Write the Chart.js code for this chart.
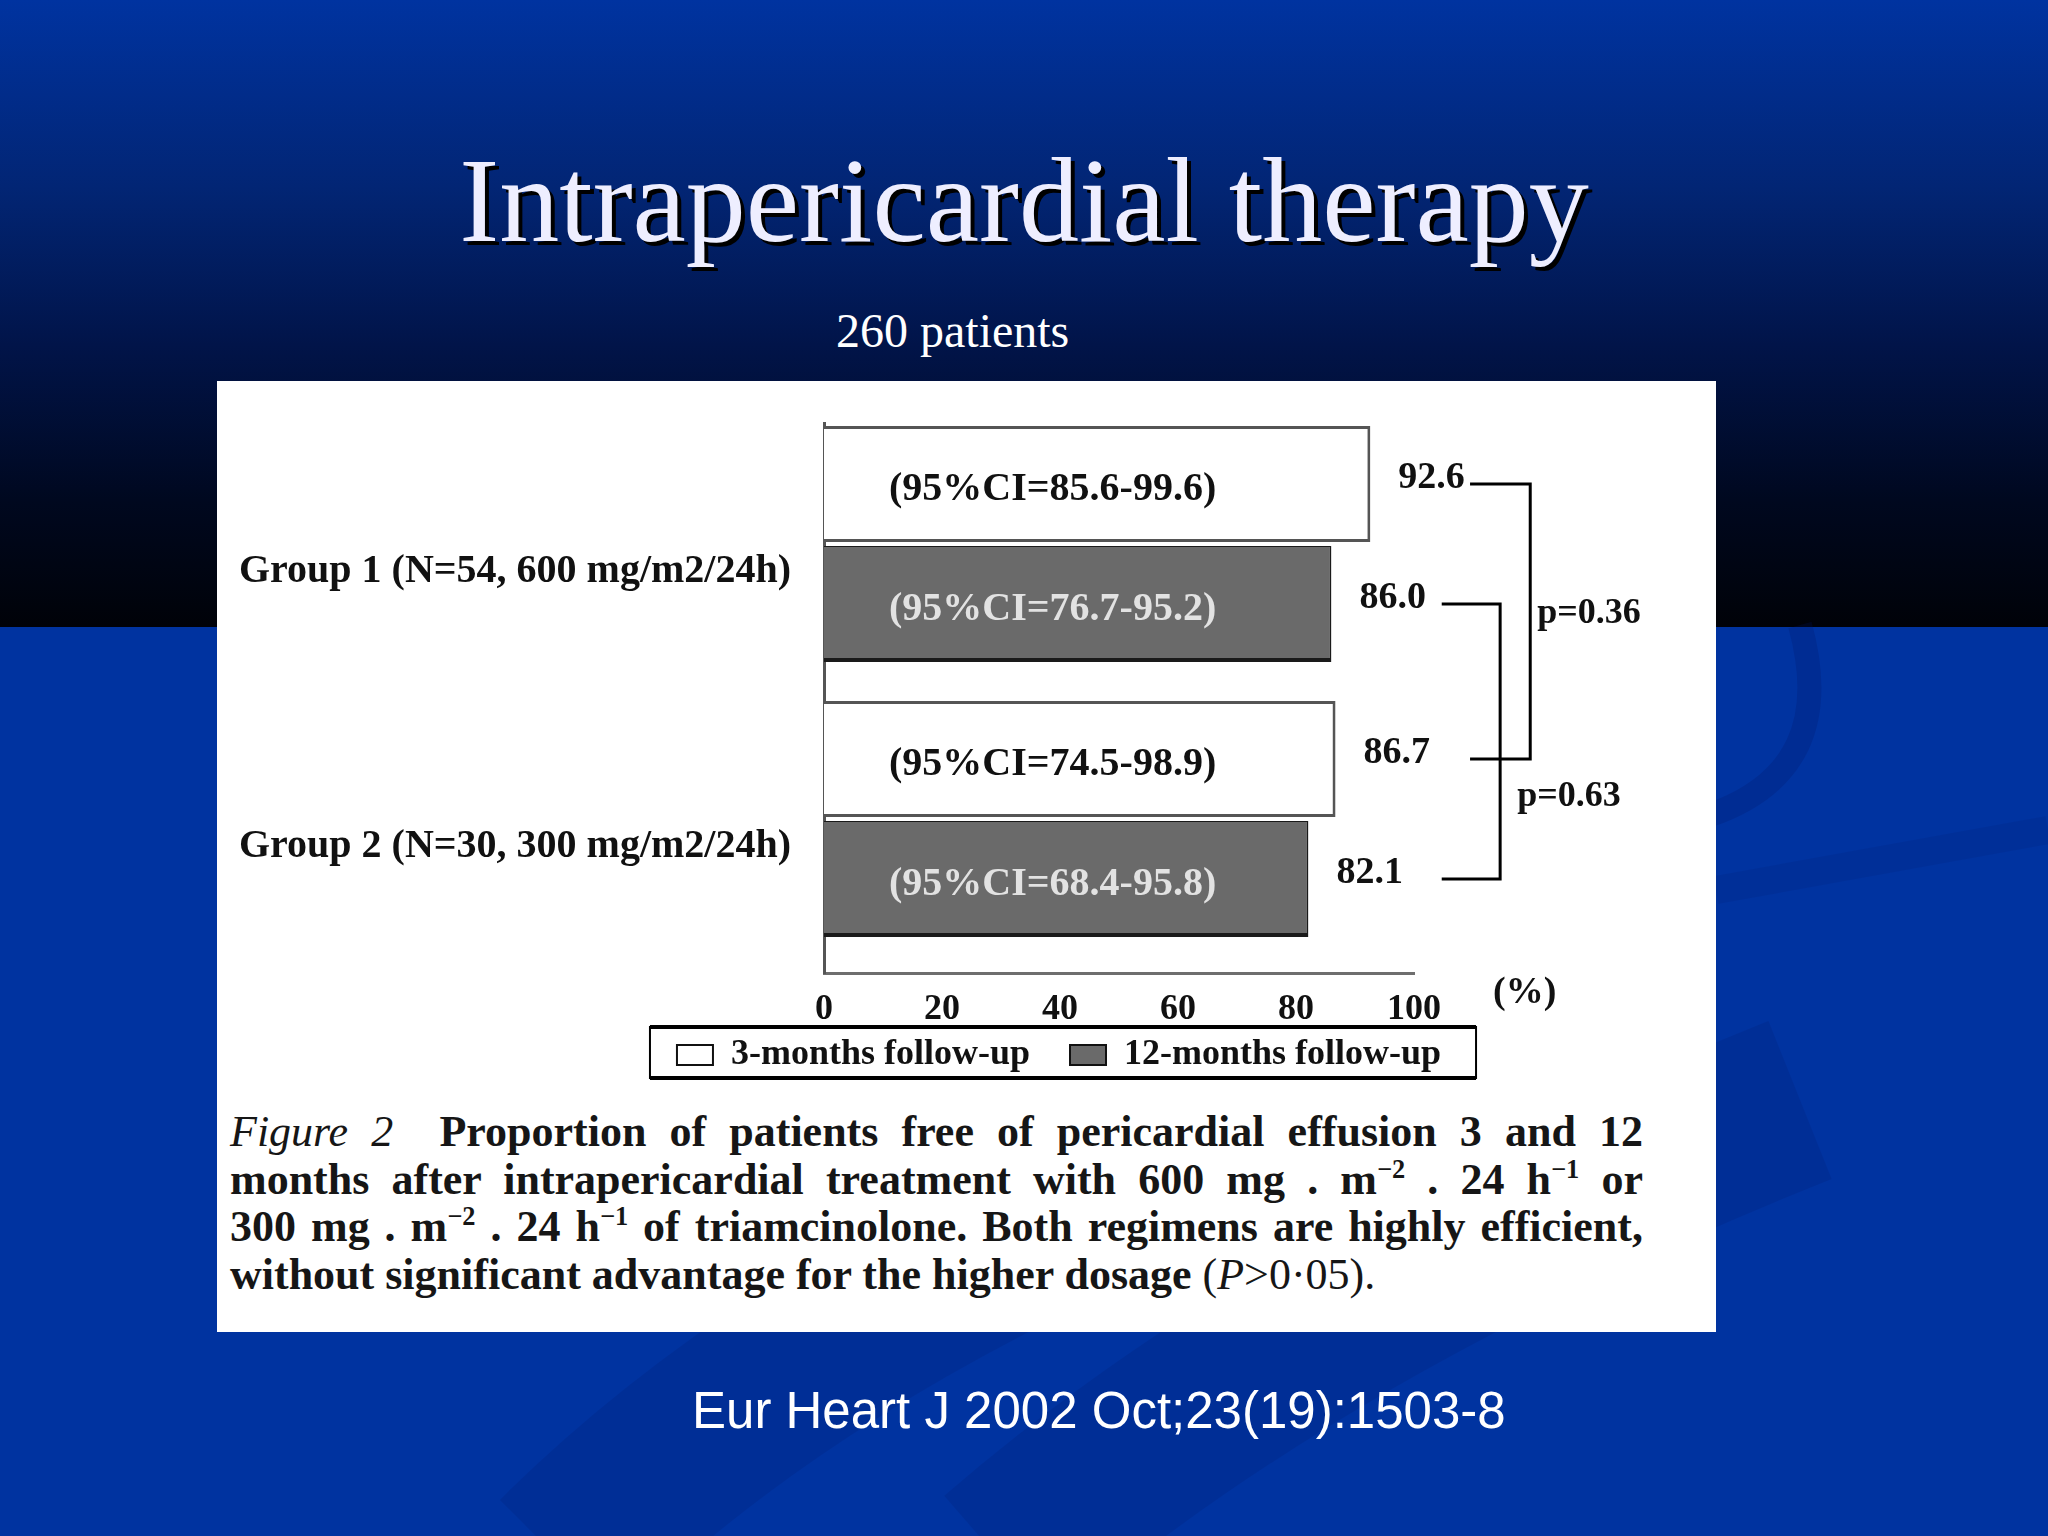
<!DOCTYPE html>
<html>
<head>
<meta charset="utf-8">
<script src="https://cdn.jsdelivr.net/npm/chart.js@4.4.1/dist/chart.umd.min.js"></script>
<style>
html,body{margin:0;padding:0;}
body{width:2048px;height:1536px;position:relative;overflow:hidden;background:#0033a0;font-family:'Liberation Serif','Times New Roman',serif;}
#topband{position:absolute;left:0;top:0;width:2048px;height:627px;background:linear-gradient(to bottom,#0033a0 0%,#022574 30%,#011449 55%,#00081f 80%,#000208 100%);}
#swoosh{position:absolute;left:0;top:0;}
#title{position:absolute;left:0;width:2048px;top:141px;text-align:center;font-size:120px;line-height:120px;color:#eeeeff;text-shadow:4px 4px 0 #000;white-space:nowrap;}
#sub{position:absolute;left:836px;top:307px;font-size:48px;line-height:48px;color:#fff;white-space:nowrap;}
#panel{position:absolute;left:217px;top:381px;width:1499px;height:951px;background:#fff;}
#chart{position:absolute;left:217px;top:381px;}
#caption{position:absolute;left:230px;top:1108px;width:1413px;font-size:44px;line-height:47.5px;font-weight:bold;color:#161616;}
#caption .ln{text-align:justify;text-align-last:justify;}
#caption .last{text-align:left;}
#caption sup{font-size:0.6em;line-height:0;vertical-align:0.6em;}
#caption .nb{font-weight:normal;}
#cite{position:absolute;left:692px;top:1385px;font-family:'Liberation Sans',Arial,sans-serif;font-size:51px;line-height:51px;color:#fff;white-space:nowrap;}
</style>
</head>
<body>
<div id="topband"></div>
<svg id="swoosh" width="2048" height="1536">
  <path d="M 560 1560 Q 820 1300 1300 1120" fill="none" stroke="rgba(0,25,100,0.16)" stroke-width="170"/>
  <path d="M 1000 1560 Q 1300 1300 1800 1100" fill="none" stroke="rgba(0,25,100,0.16)" stroke-width="170"/>
  <path d="M 1800 625 Q 1840 770 1710 815" fill="none" stroke="rgba(0,25,100,0.22)" stroke-width="24"/>
  <path d="M 1716 890 Q 1880 860 2048 830" fill="none" stroke="rgba(0,25,100,0.12)" stroke-width="28"/>
</svg>
<div id="title">Intrapericardial therapy</div>
<div id="sub">260 patients</div>
<div id="panel"></div>
<canvas id="chart" width="1684" height="702"></canvas>
<div id="caption">
  <div class="ln"><i class="nb">Figure 2</i>&nbsp; Proportion of patients free of pericardial effusion 3 and 12</div>
  <div class="ln">months after intrapericardial treatment with 600 mg . m<sup>−2</sup> . 24 h<sup>−1</sup> or</div>
  <div class="ln">300 mg . m<sup>−2</sup> . 24 h<sup>−1</sup> of triamcinolone. Both regimens are highly efficient,</div>
  <div class="last">without significant advantage for the higher dosage <span class="nb">(<i>P</i>&gt;0·05).</span></div>
</div>
<div id="cite">Eur Heart J 2002 Oct;23(19):1503-8</div>

<script>
const groupLabels = ['Group 1 (N=54, 600 mg/m2/24h)', 'Group 2 (N=30, 300 mg/m2/24h)'];
const seriesNames = ['3-months follow-up', '12-months follow-up'];
const threeMonths = [92.6, 86.7];
const twelveMonths = [86.0, 82.1];
const ci3Low = [85.6, 74.5];
const ci3High = [99.6, 98.9];
const ci12Low = [76.7, 68.4];
const ci12High = [95.2, 95.8];
const pValues = [0.36, 0.63];
const xTicks = [0, 20, 40, 60, 80, 100];
const axisUnit = '(%)';

const serif = "'Liberation Serif','Times New Roman',serif";
const ink = '#111111';

const toPoints = arr => arr.map((v, i) => ({ x: v, y: i + 1 }));

const overlay = {
  id: 'overlay',
  afterDraw(chart) {
    const ctx = chart.ctx;
    const xs = chart.scales.x;
    ctx.save();
    chart.data.datasets.forEach((ds, di) => {
      chart.getDatasetMeta(di).data.forEach((bar, i) => {
        ctx.textAlign = 'left';
        ctx.textBaseline = 'middle';
        ctx.font = 'bold 40px ' + serif;
        ctx.fillStyle = ds.ciColor;
        ctx.fillText('(95%CI=' + ds.ciLow[i].toFixed(1) + '-' + ds.ciHigh[i].toFixed(1) + ')', bar.base + 65, bar.y + 6);
        ctx.font = 'bold 38px ' + serif;
        ctx.fillStyle = ink;
        ctx.fillText(ds.data[i].x.toFixed(1), bar.x + 28, bar.y - 6);
      });
    });
    const brackets = [
      { ds: 0, start: 109.5, vert: 119.7, p: pValues[0], dx: 7, frac: 0.47 },
      { ds: 1, start: 104.7, vert: 114.6, p: pValues[1], dx: 17, frac: 0.70 }
    ];
    ctx.strokeStyle = '#000';
    ctx.lineWidth = 3;
    ctx.lineJoin = 'miter';
    brackets.forEach(b => {
      const bars = chart.getDatasetMeta(b.ds).data;
      const x1 = xs.getPixelForValue(b.start), x2 = xs.getPixelForValue(b.vert);
      const y1 = bars[0].y, y2 = bars[1].y;
      ctx.beginPath();
      ctx.moveTo(x1, y1); ctx.lineTo(x2, y1); ctx.lineTo(x2, y2); ctx.lineTo(x1, y2);
      ctx.stroke();
      ctx.font = 'bold 36px ' + serif;
      ctx.fillStyle = ink;
      ctx.textAlign = 'left';
      ctx.textBaseline = 'middle';
      ctx.fillText('p=' + b.p.toFixed(2), x2 + b.dx, y1 + (y2 - y1) * b.frac);
    });
    ctx.font = 'bold 38px ' + serif;
    ctx.fillText(axisUnit, xs.right + 79, xs.top + 20);
    const hb = chart.legend.legendHitBoxes;
    if (hb && hb.length) {
      const l = hb[0].left - 27;
      const r = hb[hb.length - 1].left + hb[hb.length - 1].width + 35;
      const t = hb[0].top - 10;
      const bt = hb[0].top + hb[0].height + 5;
      ctx.strokeStyle = '#000';
      ctx.lineWidth = 2;
      ctx.strokeRect(l, t, r - l, bt - t);
      ctx.lineWidth = 4;
      ctx.beginPath();
      ctx.moveTo(l, t); ctx.lineTo(r, t);
      ctx.moveTo(l, bt); ctx.lineTo(r, bt);
      ctx.stroke();
    }
    ctx.restore();
  }
};

new Chart(document.getElementById('chart'), {
  type: 'bar',
  data: {
    datasets: [
      {
        label: seriesNames[0],
        data: toPoints(threeMonths),
        backgroundColor: '#ffffff',
        borderColor: '#555555',
        borderWidth: { top: 3, right: 3, bottom: 3, left: 0 },
        borderSkipped: false,
        ciLow: ci3Low, ciHigh: ci3High, ciColor: '#111111'
      },
      {
        label: seriesNames[1],
        data: toPoints(twelveMonths),
        backgroundColor: '#6a6a6a',
        borderColor: '#1a1a1a',
        borderWidth: { top: 1, right: 2, bottom: 4, left: 0 },
        borderSkipped: false,
        ciLow: ci12Low, ciHigh: ci12High, ciColor: '#e2e2e2'
      }
    ]
  },
  options: {
    indexAxis: 'y',
    responsive: false,
    animation: false,
    events: [],
    datasets: { bar: { categoryPercentage: 0.873, barPercentage: 0.967 } },
    layout: { padding: { top: 42, left: 0, right: 0, bottom: 0 } },
    scales: {
      x: {
        type: 'linear', position: 'bottom', min: 0, max: 100, offset: false,
        afterBuildTicks: s => { s.ticks = xTicks.map(v => ({ value: v })); },
        grid: { display: false, drawTicks: false },
        border: { display: true, color: '#6e6e6e', width: 3 },
        ticks: { font: { family: serif, size: 36, weight: 'bold' }, color: ink, padding: 15, maxRotation: 0, autoSkip: false },
        afterFit: s => { s.height = 24; s._computeLabelArea = () => undefined; }
      },
      y: {
        type: 'linear', position: 'left', reverse: true, min: 0.56, max: 2.56, offset: false,
        afterBuildTicks: s => { s.ticks = groupLabels.map((_, i) => ({ value: i + 1 })); },
        ticks: {
          autoSkip: false,
          callback: v => groupLabels[Math.round(v) - 1],
          font: { family: serif, size: 40, weight: 'bold' },
          color: ink, padding: 33, labelOffset: 28
        },
        grid: { display: false, drawTicks: false, offset: false },
        border: { display: true, color: '#555555', width: 3 },
        afterFit: s => { s.width = 607; s.paddingTop = 0; s.paddingBottom = 0; }
      },
      yr: {
        type: 'linear', position: 'right', display: true,
        grid: { display: false, drawTicks: false },
        border: { display: false },
        ticks: { display: false },
        afterFit: s => { s.width = 487; s.paddingTop = 0; s.paddingBottom = 0; }
      }
    },
    plugins: {
      tooltip: { enabled: false },
      legend: {
        position: 'bottom', align: 'center',
        labels: {
          font: { family: serif, size: 36, weight: 'bold' },
          color: ink, boxWidth: 36, boxHeight: 20, padding: 40,
          generateLabels: c => c.data.datasets.map((ds, i) => ({
            text: ds.label, fillStyle: ds.backgroundColor, strokeStyle: '#111', lineWidth: 2,
            hidden: false, datasetIndex: i, fontColor: ink
          }))
        }
      }
    }
  },
  plugins: [overlay]
});
</script>
</body>
</html>
